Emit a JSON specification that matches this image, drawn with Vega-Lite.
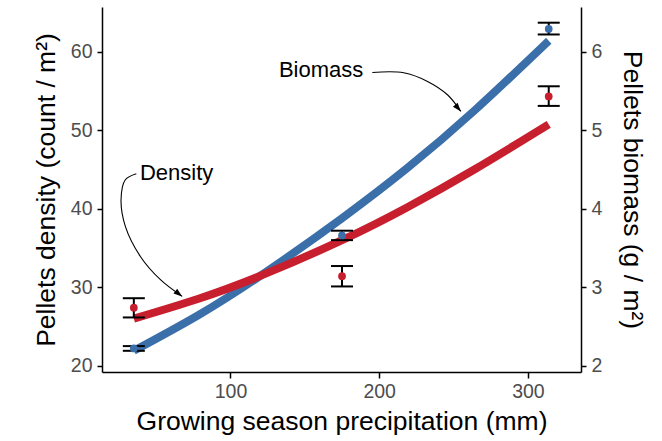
{
  "$schema": "https://vega.github.io/schema/vega-lite/v6.json",
  "width": 479,
  "height": 365,
  "autosize": "none",
  "padding": {"left": 102, "top": 7, "right": 81, "bottom": 69},
  "background": "white",
  "config": {
    "view": {"stroke": null},
    "font": "Liberation Sans",
    "axis": {
      "domainColor": "black", "domainWidth": 1.5,
      "tickColor": "black", "tickWidth": 1.5, "tickSize": 5,
      "labelColor": "#4D4D4D", "labelFontSize": 19.5, "labelFont": "Liberation Sans",
      "titleFont": "Liberation Sans", "titleFontSize": 26.5, "titleFontWeight": "normal", "titleColor": "black",
      "grid": false, "labelPadding": 5
    }
  },
  "datasets": {
    "fit": [
      {"precip": 35, "density_fit": 26.0, "biomass_fit": 2.19},
      {"precip": 78, "density_fit": 28.5, "biomass_fit": 2.64},
      {"precip": 122, "density_fit": 31.6, "biomass_fit": 3.17},
      {"precip": 175, "density_fit": 36.0, "biomass_fit": 3.88},
      {"precip": 219, "density_fit": 40.2, "biomass_fit": 4.52},
      {"precip": 264, "density_fit": 45.0, "biomass_fit": 5.25},
      {"precip": 314, "density_fit": 50.75, "biomass_fit": 6.14}
    ],
    "obs": [
      {"precip": 35, "density": 27.4, "density_lo": 26.15, "density_hi": 28.6, "biomass": 2.22, "biomass_lo": 2.19, "biomass_hi": 2.25},
      {"precip": 175, "density": 31.4, "density_lo": 30.1, "density_hi": 32.7, "biomass": 3.66, "biomass_lo": 3.6, "biomass_hi": 3.72},
      {"precip": 314, "density": 54.3, "density_lo": 53.1, "density_hi": 55.6, "biomass": 6.29, "biomass_lo": 6.22, "biomass_hi": 6.37}
    ],
    "labels": [
      {"precip": 160.9, "density": 57.7, "label": "Biomass"},
      {"precip": 63.8, "density": 44.55, "label": "Density"}
    ],
    "arrows": [
      {"arrow": "Biomass", "step": 1, "precip": 195.4, "density": 57.36},
      {"arrow": "Biomass", "step": 2, "precip": 216.5, "density": 57.32},
      {"arrow": "Biomass", "step": 3, "precip": 232.5, "density": 56.22},
      {"arrow": "Biomass", "step": 4, "precip": 245.9, "density": 54.52},
      {"arrow": "Biomass", "step": 5, "precip": 254.9, "density": 52.4},
      {"arrow": "Density", "step": 1, "precip": 36.7, "density": 44.46},
      {"arrow": "Density", "step": 2, "precip": 29.3, "density": 43.69},
      {"arrow": "Density", "step": 3, "precip": 26.4, "density": 41.15},
      {"arrow": "Density", "step": 4, "precip": 29.3, "density": 37.75},
      {"arrow": "Density", "step": 5, "precip": 39.4, "density": 33.92},
      {"arrow": "Density", "step": 6, "precip": 52.9, "density": 30.96},
      {"arrow": "Density", "step": 7, "precip": 67.5, "density": 28.83}
    ],
    "heads": [
      {"arrow": "Biomass", "precip": 254.9, "density": 52.4},
      {"arrow": "Density", "precip": 67.5, "density": 28.83}
    ]
  },
  "encoding": {
    "x": {
      "field": "precip", "type": "quantitative",
      "scale": {"domain": [13.6, 335.7], "nice": false, "zero": false},
      "axis": {"values": [100, 200, 300], "title": "Growing season precipitation (mm)", "titlePadding": 8, "tickSize": 6, "labelPadding": 4}
    }
  },
  "layer": [
    {
      "data": {"name": "fit"},
      "mark": {"type": "line", "color": "#3B6FA9", "strokeWidth": 8, "interpolate": "natural", "strokeCap": "butt"},
      "encoding": {
        "y": {"field": "biomass_fit", "type": "quantitative",
          "scale": {"domain": [1.92, 6.57], "nice": false, "zero": false},
          "axis": {"orient": "right", "values": [2, 3, 4, 5, 6], "title": "Pellets biomass (g / m²)", "titlePadding": 16}}
      }
    },
    {
      "data": {"name": "fit"},
      "mark": {"type": "line", "color": "#C81F2E", "strokeWidth": 8, "interpolate": "natural", "strokeCap": "butt"},
      "encoding": {
        "y": {"field": "density_fit", "type": "quantitative",
          "scale": {"domain": [19.2, 65.7], "nice": false, "zero": false},
          "axis": {"orient": "left", "values": [20, 30, 40, 50, 60], "title": "Pellets density (count / m²)", "titlePadding": 10}}
      }
    },
    {
      "data": {"name": "obs"},
      "mark": {"type": "rule", "color": "black", "strokeWidth": 2},
      "encoding": {
        "y": {"field": "biomass_lo", "type": "quantitative", "scale": {"domain": [1.92, 6.57], "nice": false, "zero": false}, "axis": null},
        "y2": {"field": "biomass_hi"}
      }
    },
    {
      "data": {"name": "obs"},
      "transform": [{"fold": ["biomass_lo", "biomass_hi"], "as": ["which", "cap"]}],
      "mark": {"type": "tick", "orient": "horizontal", "size": 22, "thickness": 2, "color": "black", "opacity": 1},
      "encoding": {
        "y": {"field": "cap", "type": "quantitative", "scale": {"domain": [1.92, 6.57], "nice": false, "zero": false}, "axis": null}
      }
    },
    {
      "data": {"name": "obs"},
      "mark": {"type": "point", "filled": true, "color": "#3B6FA9", "size": 60, "opacity": 1},
      "encoding": {
        "y": {"field": "biomass", "type": "quantitative", "scale": {"domain": [1.92, 6.57], "nice": false, "zero": false}, "axis": null}
      }
    },
    {
      "data": {"name": "obs"},
      "mark": {"type": "rule", "color": "black", "strokeWidth": 2},
      "encoding": {
        "y": {"field": "density_lo", "type": "quantitative", "scale": {"domain": [19.2, 65.7], "nice": false, "zero": false}, "axis": null},
        "y2": {"field": "density_hi"}
      }
    },
    {
      "data": {"name": "obs"},
      "transform": [{"fold": ["density_lo", "density_hi"], "as": ["which", "cap"]}],
      "mark": {"type": "tick", "orient": "horizontal", "size": 22, "thickness": 2, "color": "black", "opacity": 1},
      "encoding": {
        "y": {"field": "cap", "type": "quantitative", "scale": {"domain": [19.2, 65.7], "nice": false, "zero": false}, "axis": null}
      }
    },
    {
      "data": {"name": "obs"},
      "mark": {"type": "point", "filled": true, "color": "#C81F2E", "size": 60, "opacity": 1},
      "encoding": {
        "y": {"field": "density", "type": "quantitative", "scale": {"domain": [19.2, 65.7], "nice": false, "zero": false}, "axis": null}
      }
    },
    {
      "data": {"name": "arrows"},
      "mark": {"type": "line", "color": "black", "strokeWidth": 1.1, "interpolate": "catmull-rom"},
      "encoding": {
        "y": {"field": "density", "type": "quantitative", "scale": {"domain": [19.2, 65.7], "nice": false, "zero": false}, "axis": null},
        "detail": {"field": "arrow"},
        "order": {"field": "step", "type": "quantitative"}
      }
    },
    {
      "data": {"name": "heads"},
      "transform": [{"filter": "datum.arrow == 'Biomass'"}],
      "mark": {"type": "point", "filled": true, "color": "black", "opacity": 1, "shape": "M0,0L-0.35,1L0.35,1Z", "size": 300, "angle": 140},
      "encoding": {
        "y": {"field": "density", "type": "quantitative", "scale": {"domain": [19.2, 65.7], "nice": false, "zero": false}, "axis": null}
      }
    },
    {
      "data": {"name": "heads"},
      "transform": [{"filter": "datum.arrow == 'Density'"}],
      "mark": {"type": "point", "filled": true, "color": "black", "opacity": 1, "shape": "M0,0L-0.35,1L0.35,1Z", "size": 300, "angle": 128},
      "encoding": {
        "y": {"field": "density", "type": "quantitative", "scale": {"domain": [19.2, 65.7], "nice": false, "zero": false}, "axis": null}
      }
    },
    {
      "data": {"name": "labels"},
      "mark": {"type": "text", "fontSize": 22, "font": "Liberation Sans", "color": "black", "align": "center", "baseline": "middle"},
      "encoding": {
        "y": {"field": "density", "type": "quantitative", "scale": {"domain": [19.2, 65.7], "nice": false, "zero": false}, "axis": null},
        "text": {"field": "label"}
      }
    }
  ],
  "resolve": {"scale": {"y": "independent"}}
}
